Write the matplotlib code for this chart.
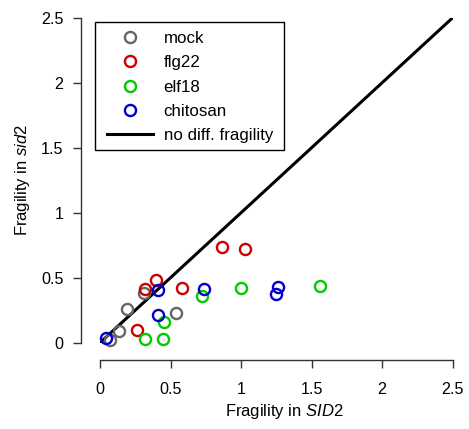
import matplotlib
matplotlib.use("Agg")
import matplotlib.pyplot as plt
from matplotlib.patches import Rectangle

plt.rcParams["font.family"] = ["Liberation Sans", "DejaVu Sans"]
plt.rcParams["mathtext.fontset"] = "custom"
plt.rcParams["mathtext.rm"] = "Liberation Sans"
plt.rcParams["mathtext.it"] = "Liberation Sans:italic"

# fragility values (x: SID2, y: sid2)
mock_x = [0.07, 0.135, 0.19, 0.31, 0.54]
mock_y = [0.02, 0.09, 0.26, 0.38, 0.23]
flg22_x = [0.26, 0.32, 0.395, 0.58, 0.867, 1.03]
flg22_y = [0.10, 0.41, 0.48, 0.42, 0.74, 0.72]
elf18_x = [0.32, 0.45, 0.456, 0.72, 1.0, 1.56]
elf18_y = [0.026, 0.028, 0.16, 0.36, 0.42, 0.436]
chitosan_x = [0.04, 0.41, 0.41, 0.74, 1.25, 1.26]
chitosan_y = [0.034, 0.405, 0.21, 0.41, 0.375, 0.43]
ref_line = [0, 2.5]
ticks = [0, 0.5, 1, 1.5, 2, 2.5]
tick_labels = ["0", "0.5", "1", "1.5", "2", "2.5"]

SERIES = [
    ("mock", mock_x, mock_y, "#666666"),
    ("flg22", flg22_x, flg22_y, "#CC0000"),
    ("elf18", elf18_x, elf18_y, "#00CC00"),
    ("chitosan", chitosan_x, chitosan_y, "#0000CC"),
]

W, H = 469, 429
fig = plt.figure(figsize=(W / 100, H / 100), dpi=100)
left, right, top, bottom = 100, 452.7, 17.7, 342.7
ax = fig.add_axes([left / W, 1 - bottom / H, (right - left) / W, (bottom - top) / H])

for name, xs, ys, col in SERIES:
    ax.plot(xs, ys, linestyle="none", marker="o", markersize=8,
            markerfacecolor="none", markeredgecolor=col, markeredgewidth=1.7,
            label=name, clip_on=False, zorder=3)

ax.plot(ref_line, ref_line, color="black", linewidth=2.2,
        label="no diff. fragility", zorder=2)

ax.set_xlim(0, 2.5)
ax.set_ylim(0, 2.5)
ax.set_xticks(ticks)
ax.set_xticklabels(tick_labels)
ax.set_yticks(ticks)
ax.set_yticklabels(tick_labels)

for side in ["top", "right"]:
    ax.spines[side].set_visible(False)
ax.spines["left"].set_position(("outward", 13.7))
ax.spines["bottom"].set_position(("outward", 12.5))
for side in ["left", "bottom"]:
    ax.spines[side].set_linewidth(1.0)
    ax.spines[side].set_color("#333333")
ax.tick_params(direction="out", length=6, width=1.0, color="#333333",
               labelsize=11.6)
ax.tick_params(axis="x", pad=10)
ax.tick_params(axis="y", pad=6.5)

ax.set_xlabel("Fragility in $\\mathit{SID2}$", fontsize=12)
ax.xaxis.set_label_coords(0.522, -0.213)
ax.xaxis.label.set_va("center")
ax.set_ylabel("Fragility in $\\mathit{sid2}$", fontsize=12)
ax.yaxis.set_label_coords(-0.221, 0.5)
ax.yaxis.label.set_va("center")

# legend without its own frame; the box is drawn separately (R legend look)
leg = ax.legend(loc="upper left", bbox_to_anchor=(0.0207, 0.9597),
                borderaxespad=0, fontsize=12.2, handlelength=2.69,
                handletextpad=0.63, labelspacing=0.553, borderpad=0,
                frameon=False)
ax.add_patch(Rectangle((-0.0142, 0.5929), 0.5359, 0.3929, transform=ax.transAxes,
                       fill=False, edgecolor="black", linewidth=1.0,
                       clip_on=False, zorder=1))

fig.savefig("out.png", dpi=100)
